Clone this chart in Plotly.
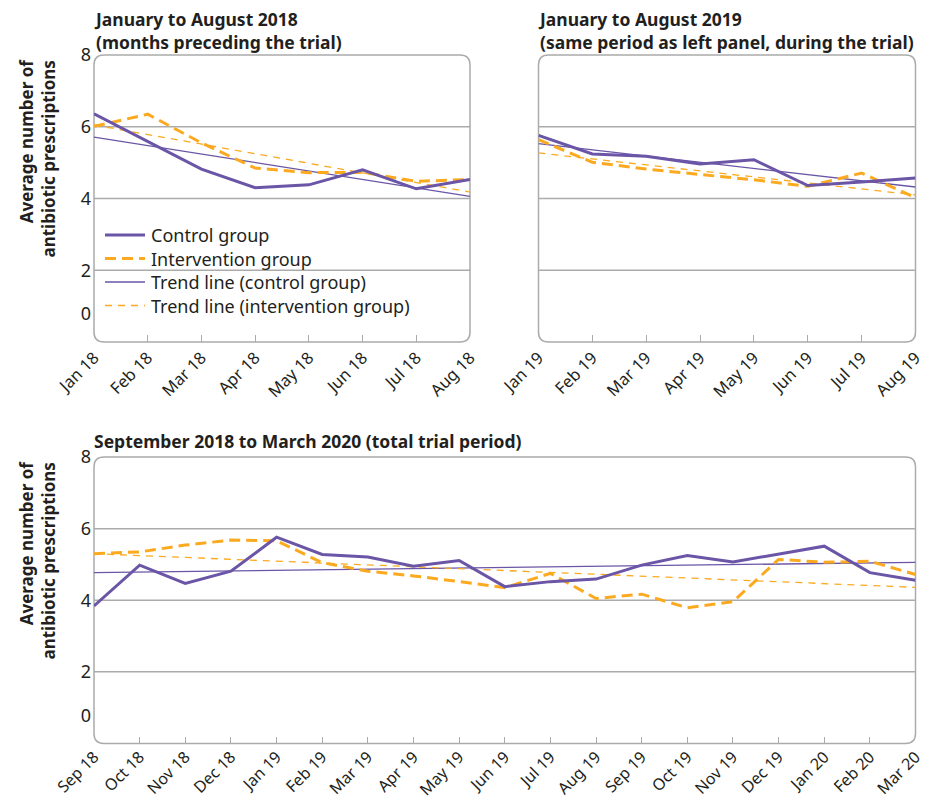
import plotly.graph_objects as go

# ---------------- data ----------------
months_2018 = ["Jan 18", "Feb 18", "Mar 18", "Apr 18", "May 18", "Jun 18", "Jul 18", "Aug 18"]
control_2018 = [6.36, 5.60, 4.82, 4.30, 4.38, 4.80, 4.27, 4.53]
intervention_2018 = [6.01, 6.35, 5.55, 4.85, 4.72, 4.73, 4.48, 4.53]
trend_control_2018 = [5.71, 4.06]
trend_intervention_2018 = [6.05, 4.18]

months_2019 = ["Jan 19", "Feb 19", "Mar 19", "Apr 19", "May 19", "Jun 19", "Jul 19", "Aug 19"]
control_2019 = [5.76, 5.24, 5.18, 4.96, 5.08, 4.36, 4.46, 4.57]
intervention_2019 = [5.64, 5.01, 4.82, 4.67, 4.52, 4.34, 4.71, 4.02]
trend_control_2019 = [5.53, 4.32]
trend_intervention_2019 = [5.27, 4.10]

months_trial = ["Sep 18", "Oct 18", "Nov 18", "Dec 18", "Jan 19", "Feb 19", "Mar 19", "Apr 19",
                "May 19", "Jun 19", "Jul 19", "Aug 19", "Sep 19", "Oct 19", "Nov 19", "Dec 19",
                "Jan 20", "Feb 20", "Mar 20"]
control_trial = [3.84, 4.98, 4.47, 4.81, 5.76, 5.28, 5.21, 4.95, 5.11, 4.38, 4.52, 4.59,
                 4.98, 5.25, 5.07, 5.30, 5.51, 4.77, 4.56]
intervention_trial = [5.30, 5.35, 5.54, 5.68, 5.66, 5.05, 4.81, 4.68, 4.52, 4.35, 4.75, 4.05,
                      4.17, 3.79, 3.96, 5.14, 5.06, 5.09, 4.72]
trend_control_trial = [4.77, 5.06]
trend_intervention_trial = [5.30, 4.36]

y_tick_vals = [0.78, 2, 4, 6, 8]
y_tick_text = ["0", "2", "4", "6", "8"]
grid_vals = [2, 4, 6]

series_names = ["Control group", "Intervention group",
                "Trend line (control group)", "Trend line (intervention group)"]

# ---------------- styling ----------------
W, H = 928, 800
PURPLE = "#6a55a6"
ORANGE = "#fbaa1f"
TEXT = "#231f20"
GRID = "#ababab"
FONT = "Noto Sans"

styles = [
    dict(color=PURPLE, width=3),
    dict(color=ORANGE, width=3, dash="11px,6px"),
    dict(color=PURPLE, width=1.3),
    dict(color=ORANGE, width=1.3, dash="7px,6px"),
]

def px_x(p):
    return p / W

def px_y(p):
    return 1 - p / H

panels = [
    ("", 94, 470, 55, 342, months_2018, control_2018, intervention_2018,
     trend_control_2018, trend_intervention_2018, 2, 16.5),
    ("2", 538.5, 915.5, 55, 342, months_2019, control_2019, intervention_2019,
     trend_control_2019, trend_intervention_2019, 2, 16.5),
    ("3", 94, 915.5, 457, 743.5, months_trial, control_trial, intervention_trial,
     trend_control_trial, trend_intervention_trial, 0, 16),
]

fig = go.Figure()
shapes = []
annotations = []

for suf, x0, x1, yt, yb, months, ctrl, interv, tctrl, tint, standoff, tfs in panels:
    xa = "x" + suf
    ya = "y" + suf
    ends = [months[0], months[-1]]
    series = [(months, ctrl), (months, interv), (ends, tctrl), (ends, tint)]
    for i in (2, 3, 1, 0):
        xs, ys = series[i]
        fig.add_trace(go.Scatter(x=xs, y=ys, mode="lines", name=series_names[i],
                                 line=styles[i], xaxis=xa, yaxis=ya, showlegend=False))

    fig.layout["xaxis" + suf] = dict(
        domain=[px_x(x0), px_x(x1)], anchor=ya, type="category",
        categoryorder="array", categoryarray=months,
        range=[0, len(months) - 1], showgrid=False, zeroline=False, showline=False,
        ticks="inside", ticklen=7, tickwidth=1.2, tickcolor=GRID,
        tickangle=-45, tickfont=dict(family=FONT, size=tfs, color=TEXT),
        ticklabelstandoff=standoff, automargin=False, fixedrange=True,
    )
    fig.layout["yaxis" + suf] = dict(
        domain=[px_y(yb), px_y(yt)], anchor=xa, range=[0, 8],
        tickvals=y_tick_vals, ticktext=y_tick_text,
        showticklabels=(suf != "2"), showgrid=False, zeroline=False, showline=False,
        ticks="", tickfont=dict(family=FONT, size=18, color=TEXT), automargin=False,
        ticklabelstandoff=2, fixedrange=True,
    )

    for g in grid_vals:
        shapes.append(dict(type="line", xref="paper", yref=ya, x0=px_x(x0), x1=px_x(x1),
                           y0=g, y1=g, line=dict(color=GRID, width=1.5), layer="below"))
    r = 10
    L, R, T, B = px_x(x0), px_x(x1), px_y(yt), px_y(yb)
    rx, ry = r / W, r / H
    path = (f"M {L+rx},{T} L {R-rx},{T} Q {R},{T} {R},{T-ry} L {R},{B+ry} Q {R},{B} {R-rx},{B} "
            f"L {L+rx},{B} Q {L},{B} {L},{B+ry} L {L},{T-ry} Q {L},{T} {L+rx},{T} Z")
    shapes.append(dict(type="path", xref="paper", yref="paper", path=path,
                       line=dict(color=GRID, width=1.5), layer="below"))

# legend (inside the top-left panel)
legend_rows = [235, 258.5, 282, 305.5]
for name, st, yrow in zip(series_names, styles, legend_rows):
    shapes.append(dict(type="line", xref="paper", yref="paper",
                       x0=px_x(105), x1=px_x(145), y0=px_y(yrow), y1=px_y(yrow), line=st))
    annotations.append(dict(x=px_x(149), y=px_y(yrow), xref="paper", yref="paper",
                            xanchor="left", yanchor="middle", showarrow=False, text=name,
                            font=dict(family=FONT, size=18, color=TEXT)))

# panel titles
title_items = [
    (92, 4.5, "January to August 2018<br>(months preceding the trial)"),
    (536, 4.5, "January to August 2019<br>(same period as left panel, during the trial)"),
    (92, 427, "September 2018 to March 2020 (total trial period)"),
]
for xp, yp, txt in title_items:
    annotations.append(dict(x=px_x(xp), y=px_y(yp), xref="paper", yref="paper",
                            xanchor="left", yanchor="top", align="left", showarrow=False,
                            text=f"<b>{txt}</b>", font=dict(family=FONT, size=17.5, color=TEXT)))

for yc in (158, 560):
    annotations.append(dict(x=px_x(36.5), y=px_y(yc), xref="paper", yref="paper",
                            xanchor="center", yanchor="middle", showarrow=False, textangle=-90,
                            align="right",
                            text="<b>Average number of<br>antibiotic prescriptions</b>",
                            font=dict(family=FONT, size=17, color=TEXT)))

fig.update_layout(
    width=W, height=H, margin=dict(l=0, r=0, t=0, b=0),
    paper_bgcolor="white", plot_bgcolor="rgba(0,0,0,0)",
    shapes=shapes, annotations=annotations,
    showlegend=False,
    font=dict(family=FONT, color=TEXT),
)

fig.write_html("out.html", config={"displayModeBar": False},
               post_script="document.body.style.margin='0';document.body.style.overflow='hidden';")
